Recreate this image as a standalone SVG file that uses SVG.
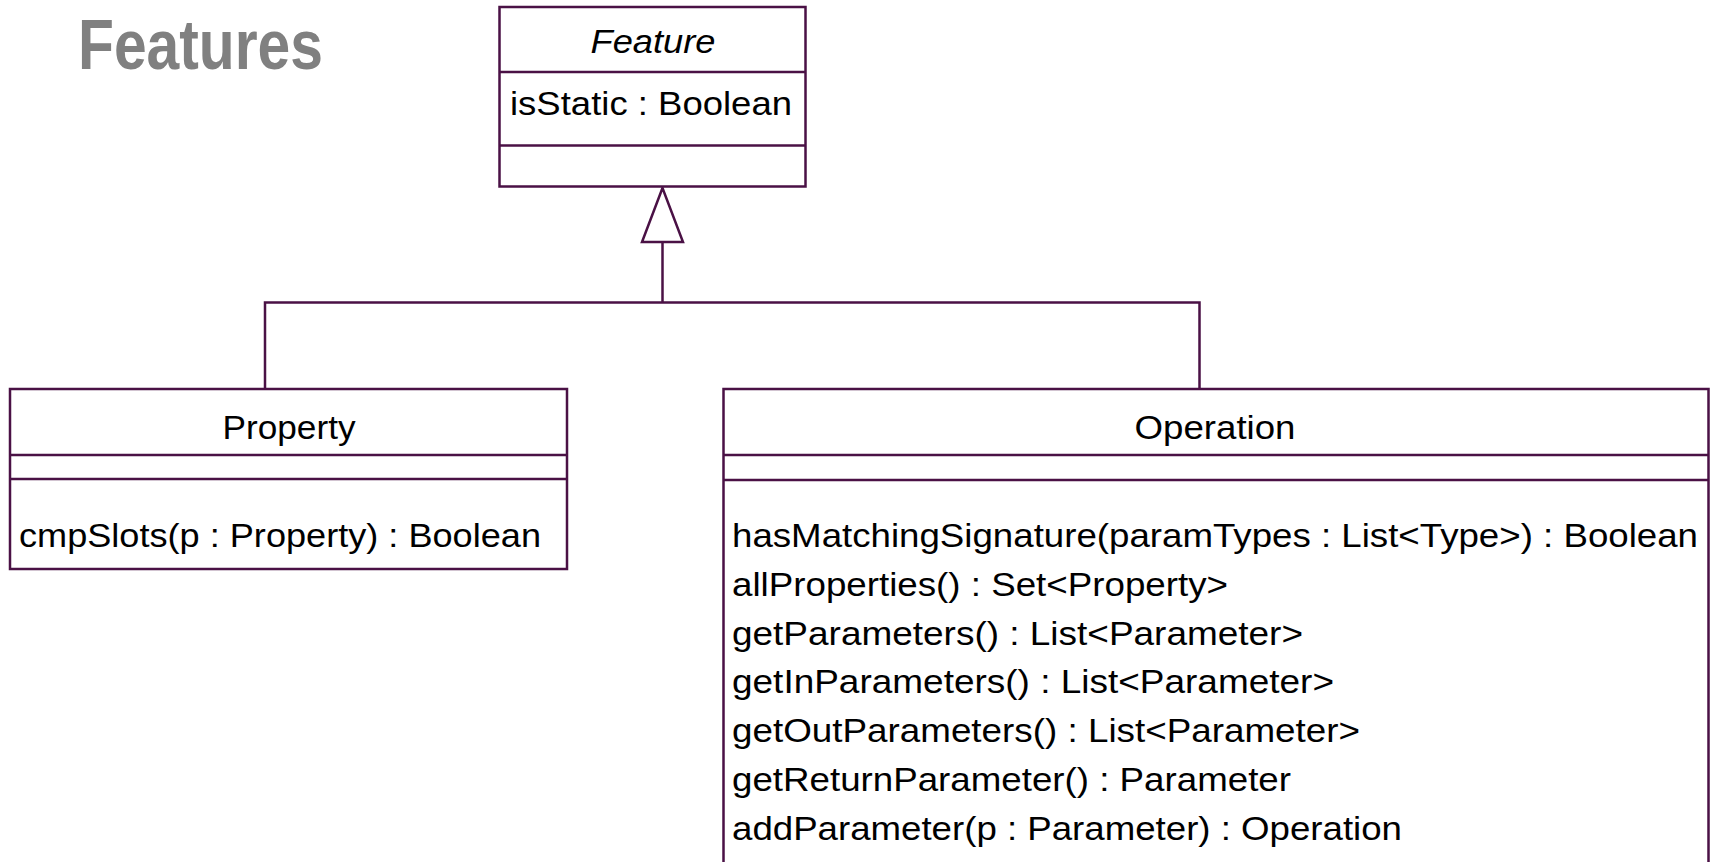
<svg xmlns="http://www.w3.org/2000/svg" width="1717" height="862" viewBox="0 0 1717 862">
<style>
.box{fill:#fff;stroke:#4a1145;stroke-width:2.5}
.ln{fill:none;stroke:#4a1145;stroke-width:2.5}
.t{font-family:"Liberation Sans",Arial,sans-serif;font-size:33px;fill:#000}
.c{text-anchor:middle}
.title{font-family:"Liberation Sans Narrow","Liberation Sans",Arial,sans-serif;font-weight:bold;font-size:71px;fill:#808080}
</style>
<rect width="1717" height="862" fill="#fff"/>
<text class="title" x="78" y="69" textLength="245" lengthAdjust="spacingAndGlyphs">Features</text>
<g id="connectors">
<path class="ln" d="M265,389 V302.5 H1199.5 V389"/>
<path class="ln" d="M662.5,302.5 V242"/>
<polygon class="box" points="662.5,188 642,242 683,242"/>
</g>
<g id="feature">
<rect class="box" x="499.5" y="7" width="306" height="179.5"/>
<line class="ln" x1="499.5" y1="72" x2="805.5" y2="72"/>
<line class="ln" x1="499.5" y1="145.5" x2="805.5" y2="145.5"/>
<text class="t c" x="653" y="53" font-style="italic" textLength="125" lengthAdjust="spacingAndGlyphs">Feature</text>
<text class="t" x="510" y="115" textLength="282" lengthAdjust="spacingAndGlyphs">isStatic : Boolean</text>
</g>
<g id="property">
<rect class="box" x="10" y="389" width="557" height="180"/>
<line class="ln" x1="10" y1="455" x2="567" y2="455"/>
<line class="ln" x1="10" y1="479" x2="567" y2="479"/>
<text class="t c" x="289" y="439" textLength="133" lengthAdjust="spacingAndGlyphs">Property</text>
<text class="t" x="19" y="547" textLength="522" lengthAdjust="spacingAndGlyphs">cmpSlots(p : Property) : Boolean</text>
</g>
<g id="operation">
<rect class="box" x="723.5" y="389" width="985" height="490"/>
<line class="ln" x1="723.5" y1="455" x2="1708.5" y2="455"/>
<line class="ln" x1="723.5" y1="480" x2="1708.5" y2="480"/>
<text class="t c" x="1215" y="439" textLength="161" lengthAdjust="spacingAndGlyphs">Operation</text>
<text class="t" x="732" y="547" textLength="966" lengthAdjust="spacingAndGlyphs">hasMatchingSignature(paramTypes : List&lt;Type&gt;) : Boolean</text>
<text class="t" x="732" y="595.5" textLength="496" lengthAdjust="spacingAndGlyphs">allProperties() : Set&lt;Property&gt;</text>
<text class="t" x="732" y="644.5" textLength="571" lengthAdjust="spacingAndGlyphs">getParameters() : List&lt;Parameter&gt;</text>
<text class="t" x="732" y="693" textLength="602" lengthAdjust="spacingAndGlyphs">getInParameters() : List&lt;Parameter&gt;</text>
<text class="t" x="732" y="742" textLength="628" lengthAdjust="spacingAndGlyphs">getOutParameters() : List&lt;Parameter&gt;</text>
<text class="t" x="732" y="791" textLength="559" lengthAdjust="spacingAndGlyphs">getReturnParameter() : Parameter</text>
<text class="t" x="732" y="840" textLength="670" lengthAdjust="spacingAndGlyphs">addParameter(p : Parameter) : Operation</text>
</g>
</svg>
